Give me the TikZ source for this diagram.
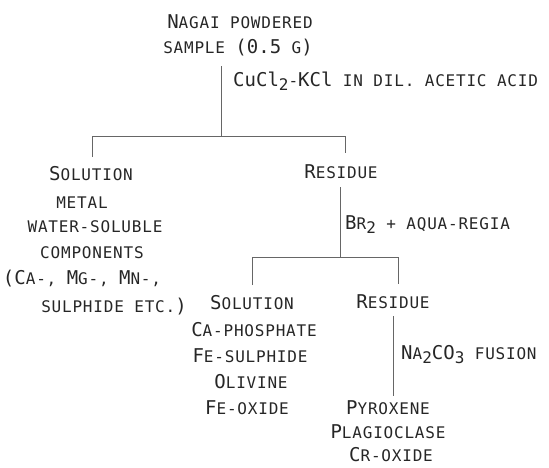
\documentclass[tikz,border=0pt]{standalone}
\usepackage{fontspec}
\setmainfont{DejaVu Sans Mono}[LetterSpace=5]
\newfontfamily\bigf{DejaVu Sans Mono}
\newcommand\Bg[1]{{\bigf\fontsize{19}{20}\selectfont #1}}
\newcommand\Sb[1]{\raisebox{-4.5pt}{\bigf\fontsize{16}{17}\selectfont #1}}
\begin{document}
\begin{tikzpicture}[x=1pt,y=-1pt,
  txt/.style={inner sep=0pt, anchor=base, font=\fontsize{16}{17}\selectfont, text=black!85},
  lbl/.style={txt, anchor=base west},
  ln/.style={draw=black!60, line width=0.7pt}]
\useasboundingbox (0,0) rectangle (549,467);
% top sample
\node[txt] (t1) at (240,28) {\Bg{N}AGAI POWDERED};
\node[txt] (t2) at (238,53) {SAMPLE \Bg{(0.5} G\Bg{)}};
\node[lbl] (l1) at (233,86) {\Bg{CuCl}\Sb{2}-\Bg{KCl} IN DIL. ACETIC ACID};
% first split
\node[txt] (s1) at (91,180) {\Bg{S}OLUTION};
\node[txt] (s2) at (82,208) {METAL};
\node[txt] (s3) at (95,232) {WATER-SOLUBLE};
\node[txt] (s4) at (92,258) {COMPONENTS};
\node[txt] (s5) at (82,284) {\Bg{(C}A-, \Bg{M}G-, \Bg{M}N-,};
\node[txt] (s6) at (114,312) {SULPHIDE ETC.\Bg{)}};
\node[txt] (r1) at (341,178) {\Bg{R}ESIDUE};
\node[lbl] (l2) at (345,229) {\Bg{B}R\Sb{2} + AQUA-REGIA};
% second split
\node[txt] (u1) at (252,309) {\Bg{S}OLUTION};
\node[txt] (u2) at (254,336) {\Bg{C}A-PHOSPHATE};
\node[txt] (u3) at (250,362) {\Bg{F}E-SULPHIDE};
\node[txt] (u4) at (251,388) {\Bg{O}LIVINE};
\node[txt] (u5) at (247,414) {\Bg{F}E-OXIDE};
\node[txt] (r2) at (393,308) {\Bg{R}ESIDUE};
\node[lbl] (l3) at (401,359) {\Bg{N}A\Sb{2}\Bg{CO}\Sb{3} FUSION};
\node[txt] (p1) at (388,414) {\Bg{P}YROXENE};
\node[txt] (p2) at (388,438) {\Bg{P}LAGIOCLASE};
\node[txt] (p3) at (391,461) {\Bg{C}R-OXIDE};
% connector points
\coordinate (a0) at (221,66);
\coordinate (a1) at (221,136);
\coordinate (aL) at (92,136);
\coordinate (aLd) at (92,157);
\coordinate (aR) at (345,136);
\coordinate (aRd) at (345,153);
\coordinate (b0) at (340,187);
\coordinate (b1) at (340,257);
\coordinate (bL) at (252,257);
\coordinate (bLd) at (252,285);
\coordinate (bR) at (398,257);
\coordinate (bRd) at (398,284);
\coordinate (c0) at (393,316);
\coordinate (c1) at (393,396);
\draw[ln] (a0) -- (a1);
\draw[ln] (aLd) -- (aL) -- (aR) -- (aRd);
\draw[ln] (b0) -- (b1);
\draw[ln] (bLd) -- (bL) -- (bR) -- (bRd);
\draw[ln] (c0) -- (c1);
\end{tikzpicture}
\end{document}
